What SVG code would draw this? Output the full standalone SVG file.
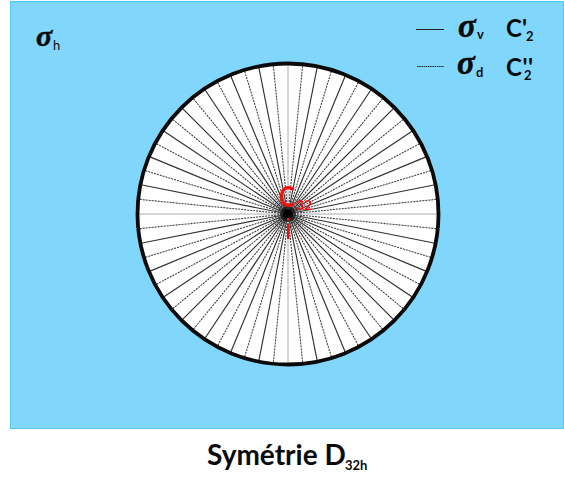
<svg xmlns="http://www.w3.org/2000/svg" width="564" height="477" viewBox="0 0 564 477">
<defs><radialGradient id="hub"><stop offset="0" stop-color="#000"/><stop offset="0.35" stop-color="#000"/><stop offset="1" stop-color="#000" stop-opacity="0"/></radialGradient></defs>
<style>
.s{stroke:#303030;stroke-width:1.15;fill:none}
.d{stroke:#3a3a3a;stroke-width:1.05;stroke-dasharray:2 1;fill:none}
.g{stroke:#aaa;stroke-width:1;fill:none}
text{font-family:"Lato","Liberation Sans",sans-serif;font-weight:700;fill:#0a0a0a}
.sig{font-family:"Liberation Serif","DejaVu Serif",serif;font-style:italic;font-size:33px;stroke:#0a0a0a;stroke-width:.5}
.sub{font-size:13px}
.c2{font-size:24px}
.two{font-size:13px}
.r{fill:#f01010}
</style>
<g id="background"><rect x="10.5" y="1.5" width="553" height="427" fill="#81d6fc" stroke="#55c5f5" stroke-width="1"/></g>
<g id="disc"><circle cx="288" cy="214" r="150.5" fill="#fff"/></g>
<g id="connectors">
<line class="g" x1="288" y1="214" x2="288" y2="64"/><line class="g" x1="288" y1="214" x2="288" y2="364"/><line class="g" x1="138" y1="214" x2="438" y2="214"/>
<g id="spokes">
<line class="d" x1="288" y1="214" x2="288" y2="64" transform="rotate(5.625 288 214)"/>
<line class="s" x1="288" y1="214" x2="288" y2="64" transform="rotate(11.25 288 214)"/>
<line class="d" x1="288" y1="214" x2="288" y2="64" transform="rotate(16.875 288 214)"/>
<line class="s" x1="288" y1="214" x2="288" y2="64" transform="rotate(22.5 288 214)"/>
<line class="d" x1="288" y1="214" x2="288" y2="64" transform="rotate(28.125 288 214)"/>
<line class="s" x1="288" y1="214" x2="288" y2="64" transform="rotate(33.75 288 214)"/>
<line class="d" x1="288" y1="214" x2="288" y2="64" transform="rotate(39.375 288 214)"/>
<line class="s" x1="288" y1="214" x2="288" y2="64" transform="rotate(45 288 214)"/>
<line class="d" x1="288" y1="214" x2="288" y2="64" transform="rotate(50.625 288 214)"/>
<line class="s" x1="288" y1="214" x2="288" y2="64" transform="rotate(56.25 288 214)"/>
<line class="d" x1="288" y1="214" x2="288" y2="64" transform="rotate(61.875 288 214)"/>
<line class="s" x1="288" y1="214" x2="288" y2="64" transform="rotate(67.5 288 214)"/>
<line class="d" x1="288" y1="214" x2="288" y2="64" transform="rotate(73.125 288 214)"/>
<line class="s" x1="288" y1="214" x2="288" y2="64" transform="rotate(78.75 288 214)"/>
<line class="d" x1="288" y1="214" x2="288" y2="64" transform="rotate(84.375 288 214)"/>
<line class="d" x1="288" y1="214" x2="288" y2="64" transform="rotate(95.625 288 214)"/>
<line class="s" x1="288" y1="214" x2="288" y2="64" transform="rotate(101.25 288 214)"/>
<line class="d" x1="288" y1="214" x2="288" y2="64" transform="rotate(106.875 288 214)"/>
<line class="s" x1="288" y1="214" x2="288" y2="64" transform="rotate(112.5 288 214)"/>
<line class="d" x1="288" y1="214" x2="288" y2="64" transform="rotate(118.125 288 214)"/>
<line class="s" x1="288" y1="214" x2="288" y2="64" transform="rotate(123.75 288 214)"/>
<line class="d" x1="288" y1="214" x2="288" y2="64" transform="rotate(129.375 288 214)"/>
<line class="s" x1="288" y1="214" x2="288" y2="64" transform="rotate(135 288 214)"/>
<line class="d" x1="288" y1="214" x2="288" y2="64" transform="rotate(140.625 288 214)"/>
<line class="s" x1="288" y1="214" x2="288" y2="64" transform="rotate(146.25 288 214)"/>
<line class="d" x1="288" y1="214" x2="288" y2="64" transform="rotate(151.875 288 214)"/>
<line class="s" x1="288" y1="214" x2="288" y2="64" transform="rotate(157.5 288 214)"/>
<line class="d" x1="288" y1="214" x2="288" y2="64" transform="rotate(163.125 288 214)"/>
<line class="s" x1="288" y1="214" x2="288" y2="64" transform="rotate(168.75 288 214)"/>
<line class="d" x1="288" y1="214" x2="288" y2="64" transform="rotate(174.375 288 214)"/>
<line class="d" x1="288" y1="214" x2="288" y2="64" transform="rotate(185.625 288 214)"/>
<line class="s" x1="288" y1="214" x2="288" y2="64" transform="rotate(191.25 288 214)"/>
<line class="d" x1="288" y1="214" x2="288" y2="64" transform="rotate(196.875 288 214)"/>
<line class="s" x1="288" y1="214" x2="288" y2="64" transform="rotate(202.5 288 214)"/>
<line class="d" x1="288" y1="214" x2="288" y2="64" transform="rotate(208.125 288 214)"/>
<line class="s" x1="288" y1="214" x2="288" y2="64" transform="rotate(213.75 288 214)"/>
<line class="d" x1="288" y1="214" x2="288" y2="64" transform="rotate(219.375 288 214)"/>
<line class="s" x1="288" y1="214" x2="288" y2="64" transform="rotate(225 288 214)"/>
<line class="d" x1="288" y1="214" x2="288" y2="64" transform="rotate(230.625 288 214)"/>
<line class="s" x1="288" y1="214" x2="288" y2="64" transform="rotate(236.25 288 214)"/>
<line class="d" x1="288" y1="214" x2="288" y2="64" transform="rotate(241.875 288 214)"/>
<line class="s" x1="288" y1="214" x2="288" y2="64" transform="rotate(247.5 288 214)"/>
<line class="d" x1="288" y1="214" x2="288" y2="64" transform="rotate(253.125 288 214)"/>
<line class="s" x1="288" y1="214" x2="288" y2="64" transform="rotate(258.75 288 214)"/>
<line class="d" x1="288" y1="214" x2="288" y2="64" transform="rotate(264.375 288 214)"/>
<line class="d" x1="288" y1="214" x2="288" y2="64" transform="rotate(275.625 288 214)"/>
<line class="s" x1="288" y1="214" x2="288" y2="64" transform="rotate(281.25 288 214)"/>
<line class="d" x1="288" y1="214" x2="288" y2="64" transform="rotate(286.875 288 214)"/>
<line class="s" x1="288" y1="214" x2="288" y2="64" transform="rotate(292.5 288 214)"/>
<line class="d" x1="288" y1="214" x2="288" y2="64" transform="rotate(298.125 288 214)"/>
<line class="s" x1="288" y1="214" x2="288" y2="64" transform="rotate(303.75 288 214)"/>
<line class="d" x1="288" y1="214" x2="288" y2="64" transform="rotate(309.375 288 214)"/>
<line class="s" x1="288" y1="214" x2="288" y2="64" transform="rotate(315 288 214)"/>
<line class="d" x1="288" y1="214" x2="288" y2="64" transform="rotate(320.625 288 214)"/>
<line class="s" x1="288" y1="214" x2="288" y2="64" transform="rotate(326.25 288 214)"/>
<line class="d" x1="288" y1="214" x2="288" y2="64" transform="rotate(331.875 288 214)"/>
<line class="s" x1="288" y1="214" x2="288" y2="64" transform="rotate(337.5 288 214)"/>
<line class="d" x1="288" y1="214" x2="288" y2="64" transform="rotate(343.125 288 214)"/>
<line class="s" x1="288" y1="214" x2="288" y2="64" transform="rotate(348.75 288 214)"/>
<line class="d" x1="288" y1="214" x2="288" y2="64" transform="rotate(354.375 288 214)"/>
</g>
<line id="legend-solid" x1="416" y1="29.5" x2="444" y2="29.5" stroke="#222" stroke-width="1"/>
<line id="legend-dashed" x1="417" y1="66.5" x2="444" y2="66.5" stroke="#222" stroke-width="1" stroke-dasharray="1.5 0.7"/>
</g>
<g id="rim"><circle cx="288" cy="214" r="150.5" fill="none" stroke="#0a0a0a" stroke-width="3.8"/><circle cx="287.5" cy="214" r="9" fill="url(#hub)"/></g>
<g id="axis-labels">
<text class="r" x="279" y="207" textLength="16" lengthAdjust="spacingAndGlyphs" style="font-size:28px">C</text>
<text class="r" x="296" y="210" style="font-size:14px">32</text>
<rect x="287" y="218" width="2.6" height="2.6" fill="#f01010"/>
<rect x="287" y="224" width="2.6" height="15" fill="#f01010"/>
</g>
<g id="label-sigma-h"><text class="sig" style="font-size:30px" x="36" y="46">σ</text><text class="sub" style="font-weight:400" x="53" y="50">h</text></g>
<g id="label-sigma-v"><text class="sig" x="458" y="37">σ</text><text class="sub" x="477" y="39">v</text></g>
<g id="label-sigma-d"><text class="sig" x="457" y="74">σ</text><text class="sub" x="476" y="77">d</text></g>
<g id="label-c2p"><text class="c2" x="506" y="37">C'</text><text class="two" x="526" y="41">2</text></g>
<g id="label-c2pp"><text class="c2" x="506" y="76" style="letter-spacing:.5px">C''</text><text class="two" x="524" y="80">2</text></g>
<g id="title"><text x="207" y="465" style="font-size:28px">Symétrie D</text><text x="345" y="470" style="font-size:13px">32h</text></g>
</svg>
